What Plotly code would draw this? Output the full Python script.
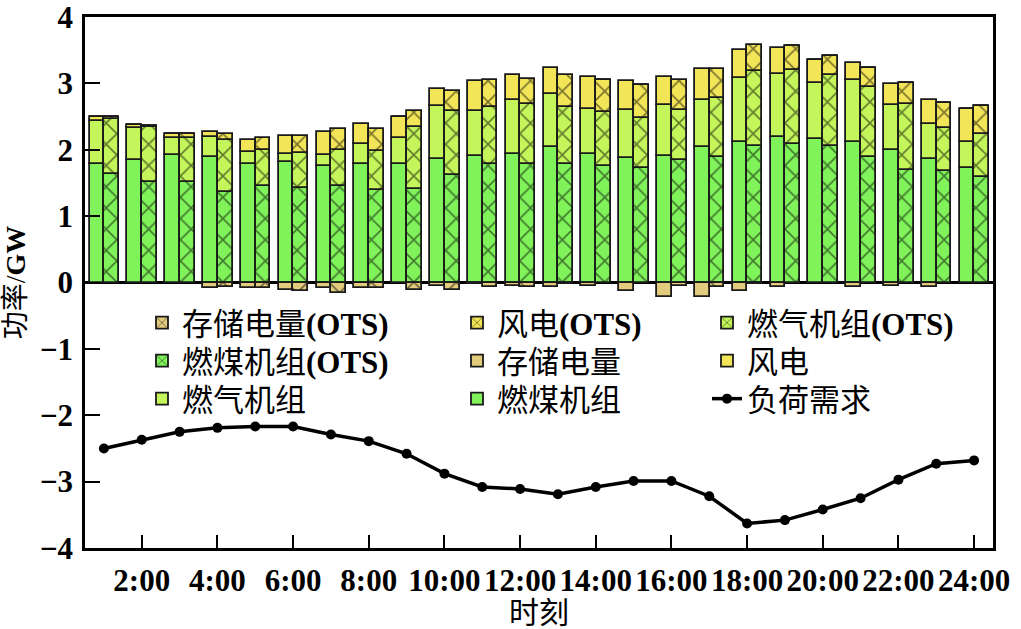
import plotly.graph_objects as go

hours = list(range(1, 25))
tick_hours = list(range(2, 25, 2))
tick_labels = [f"{h}:00" for h in tick_hours]

# 常规调度 (non-OTS), GW
coal = [1.78, 1.84, 1.92, 1.89, 1.79, 1.82, 1.75, 1.79, 1.79, 1.86, 1.91, 1.94,
        2.04, 1.94, 1.88, 1.91, 2.04, 2.12, 2.19, 2.16, 2.12, 2.00, 1.86, 1.72]
gas = [0.66, 0.49, 0.25, 0.30, 0.17, 0.12, 0.17, 0.29, 0.38, 0.80, 0.68, 0.81,
       0.80, 0.68, 0.72, 0.77, 0.71, 0.96, 0.95, 0.85, 0.93, 0.68, 0.53, 0.40]
wind = [0.06, 0.04, 0.07, 0.07, 0.18, 0.26, 0.34, 0.31, 0.32, 0.26, 0.44, 0.37,
        0.39, 0.47, 0.44, 0.41, 0.46, 0.43, 0.39, 0.34, 0.25, 0.31, 0.36, 0.50]
storage = [0, 0, 0, -0.085, -0.085, -0.115, -0.085, -0.085, 0, -0.05, -0.03, -0.06,
           -0.065, -0.06, -0.135, -0.225, -0.225, -0.135, -0.065, 0, -0.065, -0.05, -0.065, 0]

# OTS
coal_ots = [1.64, 1.51, 1.52, 1.37, 1.45, 1.43, 1.46, 1.39, 1.41, 1.62, 1.79, 1.78,
            1.78, 1.76, 1.72, 1.84, 1.89, 2.05, 2.09, 2.05, 1.89, 1.70, 1.68, 1.59]
gas_ots = [0.83, 0.83, 0.66, 0.78, 0.55, 0.52, 0.53, 0.59, 0.94, 0.96, 0.85, 0.91,
           0.86, 0.81, 0.76, 0.76, 0.89, 1.13, 1.11, 1.07, 1.05, 0.99, 0.65, 0.64]
wind_ots = [0.02, 0.02, 0.06, 0.09, 0.17, 0.26, 0.32, 0.34, 0.24, 0.30, 0.41, 0.38,
            0.49, 0.48, 0.50, 0.45, 0.43, 0.40, 0.36, 0.30, 0.29, 0.32, 0.37, 0.43]
storage_ots = [0, 0, 0, -0.075, -0.085, -0.135, -0.16, -0.085, -0.11, -0.11, -0.075, -0.065,
               -0.03, 0, 0, -0.06, -0.075, -0.03, 0, 0, 0, 0, 0, 0]

load = [-2.50, -2.37, -2.25, -2.19, -2.17, -2.17, -2.29, -2.39, -2.58, -2.88, -3.08, -3.11,
        -3.19, -3.08, -2.99, -2.99, -3.22, -3.63, -3.58, -3.42, -3.25, -2.97, -2.73, -2.68]

FONT = "Liberation Serif, Noto Sans CJK SC, serif"
C_COAL = "#80F25A"
C_GAS = "#C4F55A"
C_WIND = "#F2E558"
C_STOR = "#E2CB7C"
EDGE = "#1a1a1a"
BW = 0.39

x_plain = [h - 0.185 for h in hours]
x_ots = [h + 0.205 for h in hours]

fig = go.Figure()

# legend slots: (column text start px, row center px)
col_px = [182, 497, 747]
row_px = [323, 361, 399]
L_LEFT, L_RIGHT, T_TOP, B_BOT = 85, 993, 17, 548
PW, PH = L_RIGHT - L_LEFT, B_BOT - T_TOP

series = [
    ("燃煤机组", x_plain, coal, C_COAL, False, (1, 2)),
    ("燃气机组", x_plain, gas, C_GAS, False, (0, 2)),
    ("风电", x_plain, wind, C_WIND, False, (2, 1)),
    ("存储电量", x_plain, storage, C_STOR, False, (1, 1)),
    ("燃煤机组<b>(OTS)</b>", x_ots, coal_ots, C_COAL, True, (0, 1)),
    ("燃气机组<b>(OTS)</b>", x_ots, gas_ots, C_GAS, True, (2, 0)),
    ("风电<b>(OTS)</b>", x_ots, wind_ots, C_WIND, True, (1, 0)),
    ("存储电量<b>(OTS)</b>", x_ots, storage_ots, C_STOR, True, (0, 0)),
]

LEG_FONT = dict(family=FONT, size=31, color="black")

legends = {}
for k, (name, xs, ys, color, hatched, (ci, ri)) in enumerate(series, start=1):
    lname = "legend" if k == 1 else f"legend{k}"
    marker = dict(color=color, line=dict(color=EDGE, width=1.8))
    if hatched:
        marker["pattern"] = dict(shape="x", fgcolor="#000000", size=15, solidity=0.2)
    fig.add_trace(go.Bar(x=xs, y=ys, width=BW, name=name, marker=marker, legend=lname))
    legends[lname] = dict(
        x=(col_px[ci] - 40 - L_LEFT) / PW, y=(B_BOT - row_px[ri]) / PH,
        xanchor="left", yanchor="middle", bgcolor="rgba(0,0,0,0)",
        font=LEG_FONT, itemwidth=30,
    )

fig.add_trace(go.Scatter(
    x=hours, y=load, mode="lines+markers", name="负荷需求",
    line=dict(color="black", width=3.5), marker=dict(color="black", size=10),
    legend="legend9",
))
legends["legend9"] = dict(
    x=(col_px[2] - 40 - L_LEFT) / PW, y=(B_BOT - row_px[2]) / PH,
    xanchor="left", yanchor="middle", bgcolor="rgba(0,0,0,0)",
    font=LEG_FONT, itemwidth=30,
)

fig.update_layout(
    width=1021, height=629,
    margin=dict(l=L_LEFT, r=1021 - L_RIGHT, t=T_TOP, b=629 - B_BOT),
    paper_bgcolor="white", plot_bgcolor="white",
    barmode="relative", bargap=0,
    font=dict(family=FONT, color="black"),
    showlegend=True,
    **legends,
)

fig.update_xaxes(
    range=[0.5, 24.5], tickvals=tick_hours, ticktext=tick_labels,
    ticks="inside", ticklen=13, tickwidth=2, tickcolor="black",
    showline=True, linewidth=2.5, linecolor="black", mirror=True,
    showgrid=False, zeroline=False, automargin=False,
    tickfont=dict(family=FONT, size=31, color="black", weight="bold"),
    ticklabelstandoff=3, ticklabeloverflow="allow",
    title=dict(text="时刻", font=dict(family=FONT, size=30, color="black"), standoff=4),
)
fig.update_yaxes(
    range=[-4, 4], dtick=1,
    ticks="inside", ticklen=15, tickwidth=2, tickcolor="black",
    showline=True, linewidth=2.5, linecolor="black", mirror=True,
    showgrid=False, zeroline=True, zerolinecolor="black", zerolinewidth=2.5,
    automargin=False,
    tickfont=dict(family=FONT, size=31, color="black", weight="bold"),
    ticklabeloverflow="allow", ticklabelstandoff=3,
    title=dict(text="功率/<b>GW</b>", font=dict(family=FONT, size=28, color="black"), standoff=10),
)

fig.write_html("out.html")
